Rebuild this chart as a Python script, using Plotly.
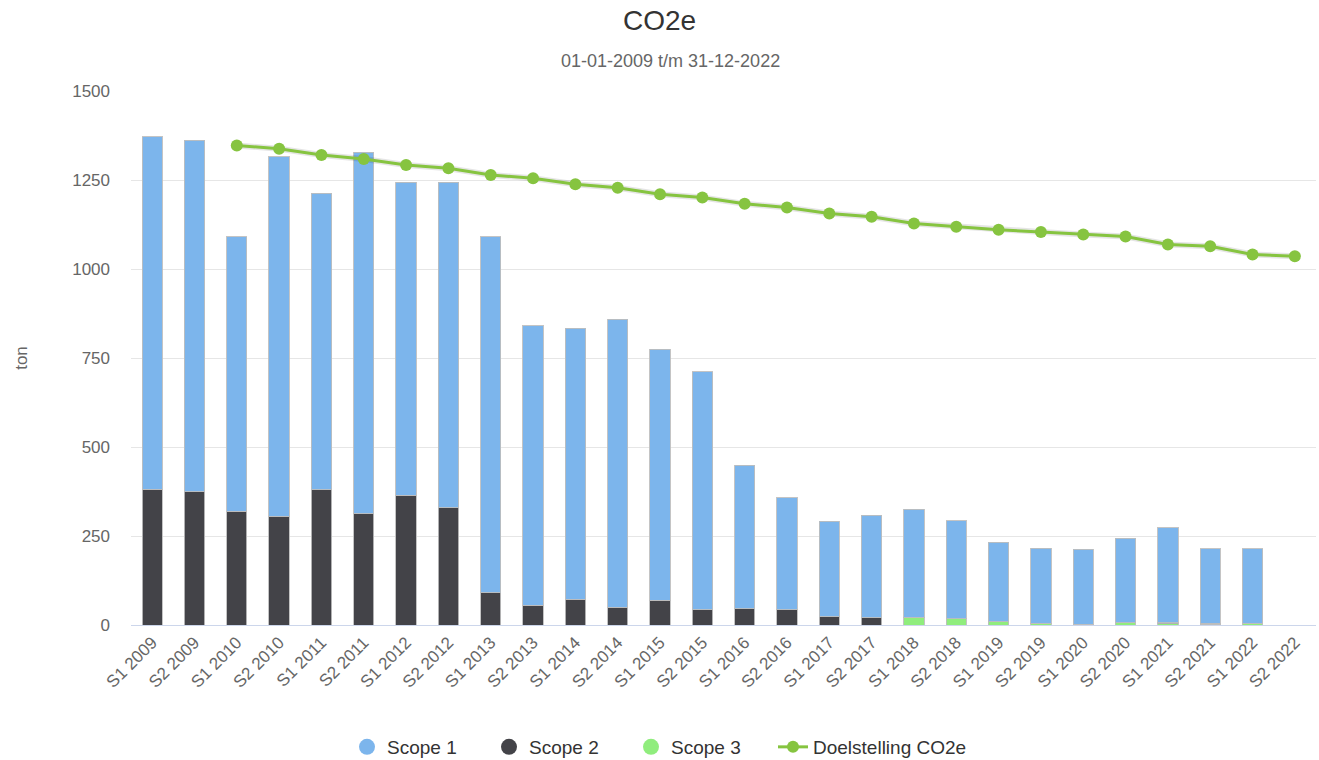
import plotly.graph_objects as go

categories = ["S1 2009", "S2 2009", "S1 2010", "S2 2010", "S1 2011", "S2 2011", "S1 2012",
              "S2 2012", "S1 2013", "S2 2013", "S1 2014", "S2 2014", "S1 2015", "S2 2015",
              "S1 2016", "S2 2016", "S1 2017", "S2 2017", "S1 2018", "S2 2018", "S1 2019",
              "S2 2019", "S1 2020", "S2 2020", "S1 2021", "S2 2021", "S1 2022", "S2 2022"]

scope1 = [990, 987, 771, 1011, 833, 1016, 880, 914, 1000, 784, 761, 809, 704, 668,
          403, 314, 268, 288, 303, 275, 224, 211, 211, 237, 267, 209, 209, None]
scope2 = [381, 375, 319, 305, 380, 312, 364, 330, 90, 56, 72, 50, 70, 43,
          46, 43, 23, 20, 0, 0, 0, 0, 0, 0, 3, 3, 0, None]
scope3 = [0, 0, 0, 0, 0, 0, 0, 0, 0, 0, 0, 0, 0, 0,
          0, 0, 0, 0, 22, 18, 9, 5, 2, 6, 3, 2, 5, None]
doelstelling = [None, None, 1347, 1338, 1320, 1309, 1292, 1283, 1264, 1255, 1238, 1228,
                1210, 1201, 1183, 1173, 1156, 1147, 1128, 1119, 1110, 1104, 1097, 1091,
                1069, 1064, 1041, 1036]

C1, C2, C3, CL = "#7cb5ec", "#434348", "#90ed7d", "#86c440"
FONT = "Liberation Sans, Arial, Helvetica, sans-serif"

PL, PR, PT, PB = 131, 1316, 91, 625
PW, PH = PR - PL, PB - PT

fig = go.Figure()
bar_line = dict(color="rgba(190,190,190,0.9)", width=1)
for name, vals, col in [("Scope 3", scope3, C3), ("Scope 2", scope2, C2), ("Scope 1", scope1, C1)]:
    fig.add_trace(go.Bar(x=categories, y=vals, name=name, marker=dict(color=col, line=bar_line),
                         showlegend=False, legendgroup=name))

# line shadow
fig.add_trace(go.Scatter(x=categories, y=doelstelling, mode="lines", showlegend=False,
                         line=dict(color="rgba(0,0,0,0.10)", width=6), hoverinfo="skip"))
fig.add_trace(go.Scatter(x=categories, y=doelstelling, mode="lines+markers", name="Doelstelling CO2e",
                         line=dict(color=CL, width=3), marker=dict(size=12, color=CL),
                         showlegend=False, legendgroup="Doelstelling CO2e"))

# legend entries (one legend each, to place them like the reference)
leg_names = ["Scope 1", "Scope 2", "Scope 3", "Doelstelling CO2e"]
leg_ids = ["legend", "legend2", "legend3", "legend4"]
leg_cx = [372, 514, 656, 798]
for name, col, lid in zip(leg_names[:3], [C1, C2, C3], leg_ids[:3]):
    fig.add_trace(go.Scatter(x=[None], y=[None], mode="markers", name=name, legendgroup=name,
                             legend=lid, marker=dict(symbol="circle", size=16, color=col)))
fig.add_trace(go.Scatter(x=[None], y=[None], mode="lines+markers", name="Doelstelling CO2e",
                         legendgroup="Doelstelling CO2e", legend="legend4",
                         line=dict(color=CL, width=3), marker=dict(size=12, color=CL)))

legends = {}
for lid, cx in zip(leg_ids, leg_cx):
    legends[lid] = dict(orientation="h", xref="paper", yref="paper",
                        x=(cx - 25 - PL) / PW, xanchor="left",
                        y=(PB - 747) / PH, yanchor="middle",
                        font=dict(size=19, color="#333333", family=FONT),
                        bgcolor="rgba(0,0,0,0)")

fig.update_layout(
    width=1319, height=760,
    barmode="stack", bargap=0.52,
    paper_bgcolor="white", plot_bgcolor="white",
    margin=dict(l=PL, r=1319 - PR, t=PT, b=760 - PB, autoexpand=False),
    font=dict(family=FONT, color="#666666", size=17),
    title=dict(text="CO2e", x=0.5, xanchor="center", xref="container", y=1 - 20 / 760,
               yanchor="middle", yref="container", font=dict(size=28, color="#333333", family=FONT)),
    annotations=[dict(text="01-01-2009 t/m 31-12-2022", xref="paper", yref="paper",
                      x=(670 - PL) / PW, y=1 + (PT - 61) / PH, xanchor="center", yanchor="middle",
                      showarrow=False, font=dict(size=18, color="#666666", family=FONT))],
    xaxis=dict(type="category", tickangle=-45, showgrid=False, showline=True, linecolor="#ccd6eb",
               linewidth=1, ticks="", tickfont=dict(size=17, color="#666666"),
               range=[-0.5, 27.5]),
    yaxis=dict(range=[0, 1500], tick0=0, dtick=250, showgrid=True, gridcolor="#e6e6e6", gridwidth=1,
               zeroline=False, showline=False, tickfont=dict(size=17, color="#666666"),
               ticklabelstandoff=20,
               title=dict(text="ton", font=dict(size=17, color="#666666"), standoff=40)),
    showlegend=True,
    **legends,
)

fig.write_html("out.html", config={"displayModeBar": False},
               post_script="document.body.style.margin='0';")
